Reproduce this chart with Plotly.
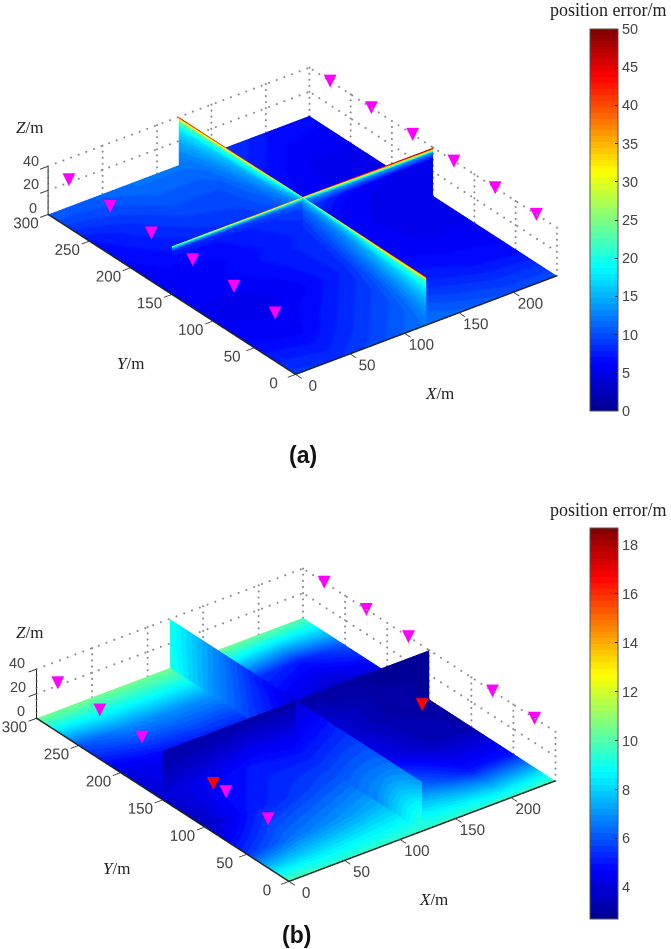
import numpy as np
import plotly.graph_objects as go

x_ticks = [0, 50, 100, 150, 200]
y_ticks = [0, 50, 100, 150, 200, 250, 300]
z_ticks = [0, 20, 40]
x_max = 240
y_max = 300
z_max = 40
wall_x = 120
wall_y = 150

x_grid = [0, 40, 80, 120, 160, 200, 240]
y_grid = [0, 50, 100, 150, 200, 250, 300]
z_grid = [0, 10, 20, 30, 36, 38, 39, 40]

# (a) position error on the floor, rows are y_grid, columns x_grid
floor_a = [
    [9, 8.5, 10, 12, 11, 10, 10],
    [6.5, 6, 8, 10, 8, 7, 6.5],
    [5.5, 5, 6, 8, 6, 5.5, 5.5],
    [5.5, 6, 7, 8, 6, 5, 5],
    [6, 7, 8, 9, 6, 5, 5],
    [7, 8.5, 10, 10, 7, 5.5, 5.5],
    [11, 11, 12, 12, 9, 7, 6.5],
]
# wall at x=120, rows are z_grid, columns y_grid
wallx_a = [
    [12, 10, 8, 8, 9, 10, 12],
    [13, 11, 9, 8, 10, 11, 13],
    [15, 13, 11, 9, 11, 13, 15],
    [18, 16, 13, 11, 14, 16, 18],
    [22, 20, 16, 14, 19, 21, 23],
    [28, 26, 20, 16, 24, 27, 29],
    [36, 33, 25, 18, 30, 34, 37],
    [50, 48, 40, 30, 44, 48, 50],
]
# wall at y=150, rows are z_grid, columns x_grid
wally_a = [
    [5.5, 6, 7, 8, 6, 5, 5],
    [5.5, 6, 7, 8, 6, 5, 5],
    [6, 6.5, 7.5, 8.5, 6, 5, 5],
    [6.5, 7, 8, 9.5, 6.5, 5.5, 5],
    [8, 9, 10, 12, 13, 13, 13],
    [14, 16, 17, 18, 22, 26, 28],
    [20, 24, 28, 26, 34, 40, 42],
    [26, 34, 42, 40, 46, 50, 50],
]

# (b)
floor_b = [
    [10, 9.5, 9.5, 9.5, 9.5, 9.5, 9.8],
    [5.5, 6.5, 7, 7.5, 6.5, 5, 5],
    [3.5, 5, 5.5, 6, 4.5, 3.5, 3.2],
    [3.8, 4.5, 5, 4.8, 4, 3.2, 3],
    [4.2, 4.6, 5, 5, 4.2, 3.6, 4],
    [6, 6.8, 7, 7, 5.5, 5, 6],
    [10.5, 10.5, 10.5, 10.5, 10.5, 10.3, 10],
]
wallx_b = [
    [9.5, 7, 6, 4.8, 5.5, 7, 9.2],
    [9.3, 7, 5.8, 4.6, 5.5, 7, 9.1],
    [8.8, 6.8, 5.6, 4.4, 5.4, 7, 9],
    [8, 6.5, 5.4, 4.2, 5.3, 7, 9],
    [7.5, 6.3, 5.3, 4, 5.2, 7, 9],
    [7.4, 6.2, 5.3, 4, 5.2, 7, 9],
    [7.3, 6.2, 5.2, 4, 5.2, 7, 9],
    [7.2, 6.1, 5.2, 4, 5.2, 7, 9],
]
wally_b = [
    [4, 4.5, 5, 4.8, 4, 3.2, 3],
    [3.8, 4.2, 4.6, 4.4, 3.8, 3.1, 2.9],
    [3.5, 3.8, 4.1, 4, 3.4, 3, 2.9],
    [3.3, 3.4, 3.6, 3.5, 3.1, 2.9, 2.8],
    [3.2, 3.2, 3.3, 3.2, 3, 2.9, 2.8],
    [3.2, 3.2, 3.2, 3.1, 3, 2.9, 2.8],
    [3.2, 3.2, 3.1, 3, 2.9, 2.9, 2.8],
    [3.2, 3.2, 3.1, 3, 2.9, 2.8, 2.8],
]

# anchor positions
anchor_a_x = [0] * 6 + [240] * 6
anchor_a_y = [25, 75, 125, 175, 225, 275] * 2
anchor_a_z = [40] * 12
anchor_b_x = [0, 0, 0, 0, 0, 240, 240, 240, 240, 240]
anchor_b_y = [25, 75, 175, 225, 275, 25, 75, 175, 225, 275]
anchor_b_z = [40] * 10
bad_b_x = [0, 188]
bad_b_y = [90, 90]
bad_b_z = [40, 40]

ticks_a = [0, 5, 10, 15, 20, 25, 30, 35, 40, 45, 50]
ticks_b = [4, 6, 8, 10, 12, 14, 16, 18]
range_a = [0, 50]
range_b = [2.7, 18.7]


def jet_steps(n=64):
    anchors = [0, 0.125, 0.375, 0.625, 0.875, 1]
    r = [0, 0, 0, 255, 255, 128]
    g = [0, 0, 255, 255, 0, 0]
    b = [143, 255, 255, 0, 0, 0]
    scale = []
    for i in range(n):
        t = (i + 0.5) / n
        c = "rgb(%d,%d,%d)" % (np.interp(t, anchors, r), np.interp(t, anchors, g), np.interp(t, anchors, b))
        scale.append([i / n, c])
        scale.append([(i + 1) / n, c])
    return scale


jet = jet_steps()
flat = dict(ambient=1, diffuse=0, specular=0, roughness=1, fresnel=0)


def grid_dots():
    # dotted box on the two back walls, plotly's dash comes out too long here
    xs, ys, zs = [], [], []
    for z in z_ticks[1:]:
        along_x = np.arange(0, x_max + 1, 7)
        along_y = np.arange(0, y_max + 1, 8)
        xs += list(along_x) + [x_max] * len(along_y)
        ys += [y_max] * len(along_x) + list(along_y)
        zs += [z] * (len(along_x) + len(along_y))
    up = np.arange(0, z_max + 1, 5)
    for x in x_ticks + [x_max]:
        xs += [x] * len(up)
        ys += [y_max] * len(up)
        zs += list(up)
    for y in y_ticks:
        xs += [x_max] * len(up)
        ys += [y] * len(up)
        zs += list(up)
    return xs, ys, zs


def add_panel(fig, scene, floor, wallx, wally, crange, ticks, bar_y, bar_len):
    common = dict(colorscale=jet, cmin=crange[0], cmax=crange[1], lighting=flat, hoverinfo="skip", scene=scene)
    gx, gy, gz = grid_dots()
    fig.add_trace(go.Scatter3d(x=gx, y=gy, z=gz, mode="markers", scene=scene, hoverinfo="skip", showlegend=False,
                               marker=dict(color="#8a8a8a", size=1.2, line=dict(width=0))))
    fig.add_trace(go.Surface(x=x_grid, y=y_grid, z=np.zeros((len(y_grid), len(x_grid))), surfacecolor=floor,
                             showscale=True, colorbar=dict(
                                 x=590 / 671, xanchor="left", y=bar_y, yanchor="top", len=bar_len, lenmode="pixels",
                                 thickness=28, thicknessmode="pixels", tickvals=ticks, ticks="inside", ticklen=3,
                                 tickcolor="#222222", outlinecolor="#555555", outlinewidth=1, xpad=0, ypad=0,
                                 tickfont=dict(family="Liberation Sans", size=14.5, color="#444444")), **common))
    yy, zz = np.meshgrid(y_grid, z_grid)
    fig.add_trace(go.Surface(x=np.full(yy.shape, wall_x), y=yy, z=zz, surfacecolor=wallx, showscale=False, **common))
    xx, zz = np.meshgrid(x_grid, z_grid)
    fig.add_trace(go.Surface(x=xx, y=np.full(xx.shape, wall_y), z=zz, surfacecolor=wally, showscale=False, **common))
    # dark front edges of the floor
    fig.add_trace(go.Scatter3d(x=[x_max, 0, 0], y=[0, 0, y_max], z=[0, 0, 0], mode="lines", scene=scene,
                               hoverinfo="skip", showlegend=False, line=dict(color="#222222", width=3)))


def anchors(fig, scene, x, y, z, color):
    fig.add_trace(go.Scatter3d(x=x, y=y, z=z, mode="text", text=["▼"] * len(x), scene=scene, hoverinfo="skip",
                               textposition="middle center", showlegend=False,
                               textfont=dict(family="DejaVu Sans", size=17, color=color)))


def scene_layout(dom_x, dom_y, eye, zoom):
    tick_font = dict(family="Liberation Sans", size=13.5, color="#444444")
    ax = dict(showbackground=False, showgrid=False, zeroline=False, showline=True, linecolor="#222222", linewidth=2,
              ticks="outside", ticklen=10, tickwidth=2, tickcolor="#333333", showspikes=False, title=dict(text=""),
              tickfont=tick_font, tickmode="array", tickangle=0)
    return dict(
        domain=dict(x=dom_x, y=dom_y),
        xaxis=dict(ax, range=[0, x_max], tickvals=x_ticks),
        yaxis=dict(ax, range=[0, y_max], tickvals=y_ticks),
        zaxis=dict(ax, range=[0, z_max], tickvals=z_ticks, showticklabels=False),
        aspectmode="manual",
        aspectratio=dict(x=1.644 * zoom, y=2.038 * zoom, z=0.277 * zoom),
        camera=dict(eye=eye, up=dict(x=0, y=0, z=1), center=dict(x=0, y=0, z=0),
                    projection=dict(type="orthographic")),
    )


fig = go.Figure()
add_panel(fig, "scene", floor_a, wallx_a, wally_a, range_a, ticks_a, 1 - 29 / 949, 382)
anchors(fig, "scene", anchor_a_x, anchor_a_y, anchor_a_z, "#ff00ff")
add_panel(fig, "scene2", floor_b, wallx_b, wally_b, range_b, ticks_b, 1 - 528 / 949, 391)
anchors(fig, "scene2", anchor_b_x, anchor_b_y, anchor_b_z, "#ff00ff")
anchors(fig, "scene2", bad_b_x, bad_b_y, bad_b_z, "#ff0000")

serif = "Liberation Serif"
sans = "Liberation Sans"
labels = [
    ("position error/m", 608, 10, 18, serif, "#222222"),
    ("position error/m", 608, 510, 18, serif, "#222222"),
    ("<i>Z</i>/m", 29, 127, 17, serif, "#222222"),
    ("<i>Y</i>/m", 130, 363, 17, serif, "#222222"),
    ("<i>X</i>/m", 440, 393, 17, serif, "#222222"),
    ("<i>Z</i>/m", 29, 632, 17, serif, "#222222"),
    ("<i>Y</i>/m", 116, 868, 17, serif, "#222222"),
    ("<i>X</i>/m", 433, 899, 17, serif, "#222222"),
    ("<b>(a)</b>", 303, 455, 23, sans, "#111111"),
    ("<b>(b)</b>", 296, 935, 23, sans, "#111111"),
    (str(z_ticks[0]), 33, 208, 14.5, sans, "#444444"),
    (str(z_ticks[1]), 31, 184, 14.5, sans, "#444444"),
    (str(z_ticks[2]), 31, 161, 14.5, sans, "#444444"),
    (str(z_ticks[0]), 21, 711, 14.5, sans, "#444444"),
    (str(z_ticks[1]), 18, 687, 14.5, sans, "#444444"),
    (str(z_ticks[2]), 17, 663, 14.5, sans, "#444444"),
]
annotations = [
    dict(text=t, x=px / 671, y=1 - py / 949, xref="paper", yref="paper", showarrow=False,
         xanchor="center", yanchor="middle", font=dict(family=fam, size=size, color=col))
    for t, px, py, size, fam, col in labels
]

k = 1.21
eye = dict(x=-0.528 * k, y=-0.691 * k, z=0.494 * k)
fig.update_layout(
    width=671, height=949, margin=dict(l=0, r=0, t=0, b=0), paper_bgcolor="white", showlegend=False,
    scene=scene_layout([0, 605 / 671], [1 - 421 / 949, 1 - 21 / 949], eye, 1),
    scene2=scene_layout([0, 592 / 671], [1 - 924.5 / 949, 1 - 524.5 / 949], eye, 1.02),
    annotations=annotations,
)

fig.write_html("out.html", post_script="document.body.style.margin='0';", config=dict(displayModeBar=False))
